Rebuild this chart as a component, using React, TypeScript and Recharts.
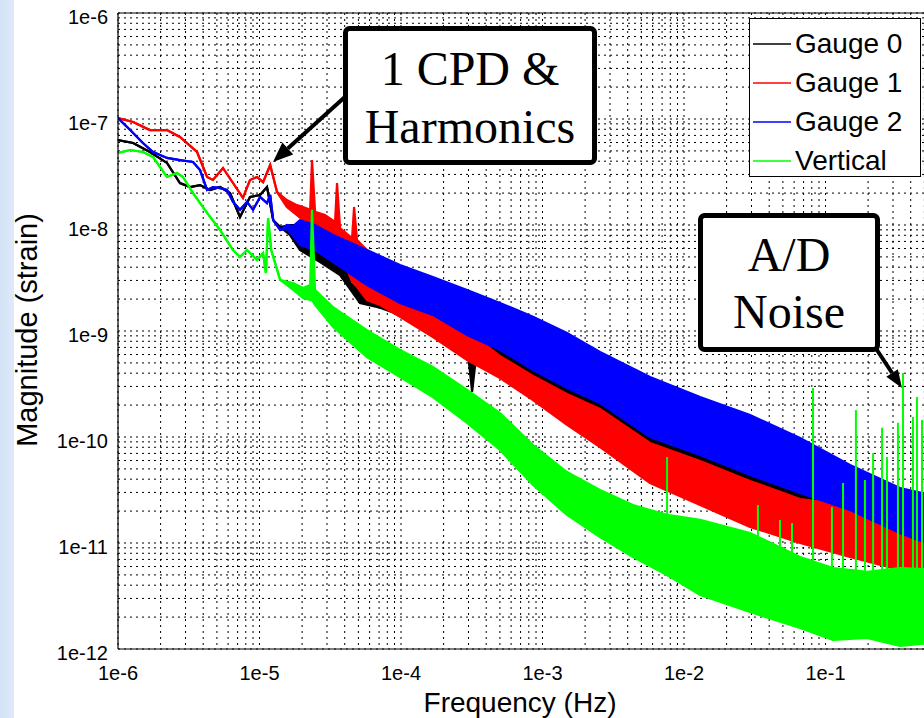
import React from "react";
import {
  ComposedChart,
  Area,
  Line,
  XAxis,
  YAxis,
  CartesianGrid,
  ReferenceLine,
  Legend,
} from "recharts";

type Pt = { f: number; lo: number; hi: number };

const seriesNames = ["Gauge 0", "Gauge 1", "Gauge 2", "Vertical"];
const seriesColors = ["#000000", "#ff0000", "#0000ff", "#00ff00"];

const xMajorTicks = [1e-6, 1e-5, 1e-4, 1e-3, 1e-2, 1e-1, 1];
const xTickLabels = ["1e-6", "1e-5", "1e-4", "1e-3", "1e-2", "1e-1", ""];
const yMajorTicks = [1e-12, 1e-11, 1e-10, 1e-9, 1e-8, 1e-7, 1e-6];
const yTickLabels = ["1e-12", "1e-11", "1e-10", "1e-9", "1e-8", "1e-7", "1e-6"];
const minorSteps = [2, 3, 4, 5, 6, 7, 8, 9];

// Gauge 0 (black): low-frequency trace, then noise envelope (lo / hi)
const gauge0: Pt[] = [
  { f: 1.0e-6, lo: 6.33e-8, hi: 6.33e-8 },
  { f: 1.28e-6, lo: 5.94e-8, hi: 5.94e-8 },
  { f: 1.68e-6, lo: 4.88e-8, hi: 4.88e-8 },
  { f: 2.22e-6, lo: 3.85e-8, hi: 3.85e-8 },
  { f: 2.74e-6, lo: 2.49e-8, hi: 2.49e-8 },
  { f: 3.23e-6, lo: 2.28e-8, hi: 2.28e-8 },
  { f: 3.8e-6, lo: 2.38e-8, hi: 2.38e-8 },
  { f: 4.47e-6, lo: 2.14e-8, hi: 2.14e-8 },
  { f: 5.26e-6, lo: 2.28e-8, hi: 2.28e-8 },
  { f: 6.19e-6, lo: 2.0e-8, hi: 2.0e-8 },
  { f: 7.28e-6, lo: 1.19e-8, hi: 1.19e-8 },
  { f: 8.57e-6, lo: 1.84e-8, hi: 1.84e-8 },
  { f: 1.01e-5, lo: 1.92e-8, hi: 1.92e-8 },
  { f: 1.13e-5, lo: 2.28e-8, hi: 2.28e-8 },
  { f: 1.25e-5, lo: 1.11e-8, hi: 1.11e-8 },
  { f: 1.4e-5, lo: 9.57e-9, hi: 9.57e-9 },
  { f: 1.64e-5, lo: 8.05e-9, hi: 1.0e-8 },
  { f: 1.93e-5, lo: 5.81e-9, hi: 1.0e-8 },
  { f: 2.68e-5, lo: 4.47e-9, hi: 8.05e-9 },
  { f: 3.71e-5, lo: 3.37e-9, hi: 7.22e-9 },
  { f: 5.13e-5, lo: 1.84e-9, hi: 5.81e-9 },
  { f: 7.11e-5, lo: 1.66e-9, hi: 4.47e-9 },
  { f: 9.84e-5, lo: 1.42e-9, hi: 3.37e-9 },
  { f: 1.68e-4, lo: 1.02e-9, hi: 2.19e-9 },
  { f: 2.93e-4, lo: 7.38e-10, hi: 1.58e-9 },
  { f: 3.18e-4, lo: 2.66e-10, hi: 1.42e-9 },
  { f: 3.44e-4, lo: 6.62e-10, hi: 1.33e-9 },
  { f: 5.01e-4, lo: 5.32e-10, hi: 1.02e-9 },
  { f: 8.57e-4, lo: 3.09e-10, hi: 6.62e-10 },
  { f: 1.49e-3, lo: 2.23e-10, hi: 4.29e-10 },
  { f: 2.55e-3, lo: 1.68e-10, hi: 2.78e-10 },
  { f: 5.75e-3, lo: 8.4e-11, hi: 1.45e-10 },
  { f: 1.3e-2, lo: 5.81e-11, hi: 9.37e-11 },
  { f: 2.93e-2, lo: 3.76e-11, hi: 6.07e-11 },
  { f: 6.61e-2, lo: 2.54e-11, hi: 3.93e-11 },
  { f: 1.49e-1, lo: 1.84e-11, hi: 2.84e-11 },
  { f: 3.36e-1, lo: 1.07e-11, hi: 1.84e-11 },
  { f: 6.45e-1, lo: 8.22e-12, hi: 1.48e-11 },
];

// Gauge 1 (red)
const gauge1: Pt[] = [
  { f: 1.0e-6, lo: 1.02e-7, hi: 1.02e-7 },
  { f: 1.28e-6, lo: 9.37e-8, hi: 9.37e-8 },
  { f: 1.68e-6, lo: 7.87e-8, hi: 7.87e-8 },
  { f: 2.22e-6, lo: 7.87e-8, hi: 7.87e-8 },
  { f: 2.74e-6, lo: 6.76e-8, hi: 6.76e-8 },
  { f: 3.62e-6, lo: 4.88e-8, hi: 4.88e-8 },
  { f: 4.26e-6, lo: 2.84e-8, hi: 2.84e-8 },
  { f: 4.69e-6, lo: 2.66e-8, hi: 2.66e-8 },
  { f: 5.52e-6, lo: 3.45e-8, hi: 3.45e-8 },
  { f: 6.5e-6, lo: 2.49e-8, hi: 2.49e-8 },
  { f: 7.64e-6, lo: 1.8e-8, hi: 1.8e-8 },
  { f: 8.57e-6, lo: 2.66e-8, hi: 2.66e-8 },
  { f: 9.6e-6, lo: 2.84e-8, hi: 2.84e-8 },
  { f: 1.06e-5, lo: 2.54e-8, hi: 2.54e-8 },
  { f: 1.19e-5, lo: 3.68e-8, hi: 3.68e-8 },
  { f: 1.33e-5, lo: 2.05e-8, hi: 2.05e-8 },
  { f: 1.56e-5, lo: 1.48e-8, hi: 1.72e-8 },
  { f: 1.84e-5, lo: 1.24e-8, hi: 1.54e-8 },
  { f: 2.1e-5, lo: 1.07e-8, hi: 1.45e-8 },
  { f: 2.28e-5, lo: 9.78e-9, hi: 1.39e-8 },
  { f: 2.35e-5, lo: 9.37e-9, hi: 4.1e-8 },
  { f: 2.47e-5, lo: 8.97e-9, hi: 1.33e-8 },
  { f: 2.9e-5, lo: 7.22e-9, hi: 1.24e-8 },
  { f: 3.42e-5, lo: 6.07e-9, hi: 1.07e-8 },
  { f: 3.53e-5, lo: 5.81e-9, hi: 2.49e-8 },
  { f: 3.71e-5, lo: 5.56e-9, hi: 9.37e-9 },
  { f: 4.51e-5, lo: 2.9e-9, hi: 7.54e-9 },
  { f: 4.66e-5, lo: 2.78e-9, hi: 1.48e-8 },
  { f: 4.89e-5, lo: 2.6e-9, hi: 7.22e-9 },
  { f: 5.75e-5, lo: 1.96e-9, hi: 5.81e-9 },
  { f: 7.11e-5, lo: 1.76e-9, hi: 4.47e-9 },
  { f: 9.84e-5, lo: 1.36e-9, hi: 3.03e-9 },
  { f: 1.68e-4, lo: 8.78e-10, hi: 1.96e-9 },
  { f: 2.93e-4, lo: 5.32e-10, hi: 1.02e-9 },
  { f: 5.01e-4, lo: 3.6e-10, hi: 5.81e-10 },
  { f: 8.57e-4, lo: 2.23e-10, hi: 3.76e-10 },
  { f: 1.49e-3, lo: 1.3e-10, hi: 2.54e-10 },
  { f: 2.55e-3, lo: 8.05e-11, hi: 1.84e-10 },
  { f: 5.75e-3, lo: 3.68e-11, hi: 8.78e-11 },
  { f: 1.3e-2, lo: 2.28e-11, hi: 5.94e-11 },
  { f: 2.93e-2, lo: 1.42e-11, hi: 3.85e-11 },
  { f: 6.61e-2, lo: 1.0e-11, hi: 2.6e-11 },
  { f: 1.49e-1, lo: 7.38e-12, hi: 2.28e-11 },
  { f: 3.36e-1, lo: 5.56e-12, hi: 1.39e-11 },
  { f: 6.45e-1, lo: 4.78e-12, hi: 1.07e-11 },
];

// Gauge 2 (blue)
const gauge2: Pt[] = [
  { f: 1.0e-6, lo: 1.02e-7, hi: 1.02e-7 },
  { f: 1.22e-6, lo: 7.87e-8, hi: 7.87e-8 },
  { f: 1.5e-6, lo: 5.94e-8, hi: 5.94e-8 },
  { f: 1.77e-6, lo: 4.88e-8, hi: 4.88e-8 },
  { f: 2.22e-6, lo: 4.29e-8, hi: 4.29e-8 },
  { f: 2.74e-6, lo: 4.1e-8, hi: 4.1e-8 },
  { f: 3.39e-6, lo: 3.93e-8, hi: 3.93e-8 },
  { f: 3.8e-6, lo: 3.3e-8, hi: 3.3e-8 },
  { f: 4.26e-6, lo: 2.14e-8, hi: 2.14e-8 },
  { f: 4.69e-6, lo: 2.28e-8, hi: 2.28e-8 },
  { f: 5.26e-6, lo: 2.23e-8, hi: 2.23e-8 },
  { f: 5.89e-6, lo: 2.14e-8, hi: 2.14e-8 },
  { f: 6.5e-6, lo: 1.65e-8, hi: 1.65e-8 },
  { f: 7.28e-6, lo: 1.39e-8, hi: 1.39e-8 },
  { f: 8.16e-6, lo: 1.65e-8, hi: 1.65e-8 },
  { f: 9.0e-6, lo: 1.39e-8, hi: 1.39e-8 },
  { f: 1.01e-5, lo: 1.84e-8, hi: 1.84e-8 },
  { f: 1.13e-5, lo: 1.61e-8, hi: 1.61e-8 },
  { f: 1.19e-5, lo: 1.92e-8, hi: 1.92e-8 },
  { f: 1.25e-5, lo: 1.11e-8, hi: 1.11e-8 },
  { f: 1.4e-5, lo: 8.97e-9, hi: 8.97e-9 },
  { f: 1.56e-5, lo: 9.17e-9, hi: 1.0e-8 },
  { f: 1.73e-5, lo: 7.87e-9, hi: 9.78e-9 },
  { f: 1.93e-5, lo: 6.47e-9, hi: 1.11e-8 },
  { f: 2.47e-5, lo: 5.81e-9, hi: 1.0e-8 },
  { f: 3.31e-5, lo: 4.47e-9, hi: 8.05e-9 },
  { f: 5.75e-5, lo: 2.72e-9, hi: 5.81e-9 },
  { f: 9.84e-5, lo: 1.84e-9, hi: 4.19e-9 },
  { f: 1.68e-4, lo: 1.42e-9, hi: 3.23e-9 },
  { f: 2.93e-4, lo: 9.17e-10, hi: 2.44e-9 },
  { f: 5.01e-4, lo: 6.62e-10, hi: 1.84e-9 },
  { f: 8.57e-4, lo: 4.29e-10, hi: 1.36e-9 },
  { f: 1.49e-3, lo: 2.9e-10, hi: 9.57e-10 },
  { f: 2.55e-3, lo: 2.09e-10, hi: 6.34e-10 },
  { f: 5.75e-3, lo: 1.0e-10, hi: 3.68e-10 },
  { f: 1.3e-2, lo: 6.76e-11, hi: 2.38e-10 },
  { f: 2.93e-2, lo: 4.38e-11, hi: 1.61e-10 },
  { f: 6.61e-2, lo: 2.96e-11, hi: 9.78e-11 },
  { f: 1.49e-1, lo: 2.05e-11, hi: 5.44e-11 },
  { f: 3.36e-1, lo: 1.24e-11, hi: 3.3e-11 },
  { f: 6.45e-1, lo: 8.97e-12, hi: 2.72e-11 },
];

// Vertical (green)
const vertical: Pt[] = [
  { f: 1.0e-6, lo: 4.78e-8, hi: 4.78e-8 },
  { f: 1.22e-6, lo: 5.1e-8, hi: 5.1e-8 },
  { f: 1.5e-6, lo: 4.88e-8, hi: 4.88e-8 },
  { f: 1.77e-6, lo: 4.38e-8, hi: 4.38e-8 },
  { f: 2.22e-6, lo: 2.84e-8, hi: 2.84e-8 },
  { f: 2.61e-6, lo: 3.09e-8, hi: 3.09e-8 },
  { f: 2.88e-6, lo: 2.84e-8, hi: 2.84e-8 },
  { f: 3.39e-6, lo: 2.0e-8, hi: 2.0e-8 },
  { f: 4.26e-6, lo: 1.3e-8, hi: 1.3e-8 },
  { f: 5.26e-6, lo: 8.97e-9, hi: 8.97e-9 },
  { f: 6.5e-6, lo: 5.81e-9, hi: 5.81e-9 },
  { f: 7.28e-6, lo: 4.99e-9, hi: 4.99e-9 },
  { f: 8.16e-6, lo: 5.81e-9, hi: 5.81e-9 },
  { f: 9.6e-6, lo: 4.67e-9, hi: 4.67e-9 },
  { f: 1.06e-5, lo: 5.44e-9, hi: 5.44e-9 },
  { f: 1.11e-5, lo: 3.52e-9, hi: 3.52e-9 },
  { f: 1.15e-5, lo: 1.16e-8, hi: 1.16e-8 },
  { f: 1.21e-5, lo: 5.81e-9, hi: 5.81e-9 },
  { f: 1.4e-5, lo: 3.03e-9, hi: 3.03e-9 },
  { f: 1.73e-5, lo: 2.44e-9, hi: 2.84e-9 },
  { f: 2.03e-5, lo: 2.05e-9, hi: 2.54e-9 },
  { f: 2.28e-5, lo: 1.96e-9, hi: 2.72e-9 },
  { f: 2.35e-5, lo: 1.96e-9, hi: 1.39e-8 },
  { f: 2.47e-5, lo: 1.76e-9, hi: 2.44e-9 },
  { f: 3.31e-5, lo: 1.09e-9, hi: 1.68e-9 },
  { f: 5.75e-5, lo: 5.68e-10, hi: 1.02e-9 },
  { f: 9.84e-5, lo: 3.68e-10, hi: 6.62e-10 },
  { f: 1.68e-4, lo: 2.38e-10, hi: 4.57e-10 },
  { f: 2.93e-4, lo: 1.36e-10, hi: 2.78e-10 },
  { f: 5.01e-4, lo: 7.54e-11, hi: 1.68e-10 },
  { f: 8.57e-4, lo: 3.52e-11, hi: 8.4e-11 },
  { f: 1.49e-3, lo: 1.84e-11, hi: 4.67e-11 },
  { f: 2.55e-3, lo: 1.14e-11, hi: 3.16e-11 },
  { f: 4.36e-3, lo: 7.38e-12, hi: 2.28e-11 },
  { f: 7.59e-3, lo: 4.99e-12, hi: 1.84e-11 },
  { f: 1.3e-2, lo: 3.23e-12, hi: 1.65e-11 },
  { f: 2.93e-2, lo: 2.23e-12, hi: 1.24e-11 },
  { f: 6.61e-2, lo: 1.58e-12, hi: 7.38e-12 },
  { f: 1.13e-1, lo: 1.22e-12, hi: 5.81e-12 },
  { f: 1.97e-1, lo: 1.27e-12, hi: 5.33e-12 },
  { f: 3.36e-1, lo: 1.07e-12, hi: 5.81e-12 },
  { f: 6.45e-1, lo: 1.16e-12, hi: 5.56e-12 },
];

// A/D noise spikes on the Vertical channel
const verticalSpikes: Pt[] = [
  { f: 7.59e-3, lo: 6.91e-12, hi: 6.47e-11 },
  { f: 3.33e-2, lo: 2.9e-12, hi: 2.28e-11 },
  { f: 4.77e-2, lo: 2.9e-12, hi: 1.65e-11 },
  { f: 5.8e-2, lo: 2.9e-12, hi: 1.54e-11 },
  { f: 8.16e-2, lo: 2.9e-12, hi: 2.9e-10 },
  { f: 1.11e-1, lo: 2.9e-12, hi: 2.19e-11 },
  { f: 1.33e-1, lo: 2.9e-12, hi: 3.68e-11 },
  { f: 1.64e-1, lo: 2.9e-12, hi: 1.8e-10 },
  { f: 1.9e-1, lo: 2.9e-12, hi: 3.93e-11 },
  { f: 2.17e-1, lo: 2.9e-12, hi: 7.07e-11 },
  { f: 2.51e-1, lo: 2.9e-12, hi: 1.22e-10 },
  { f: 2.72e-1, lo: 2.9e-12, hi: 6.47e-11 },
  { f: 3.25e-1, lo: 2.9e-12, hi: 1.36e-10 },
  { f: 3.53e-1, lo: 2.9e-12, hi: 4.02e-10 },
  { f: 4.15e-1, lo: 2.9e-12, hi: 1.54e-10 },
  { f: 4.43e-1, lo: 2.9e-12, hi: 2.38e-10 },
  { f: 4.81e-1, lo: 2.9e-12, hi: 1.45e-10 },
];

const seriesData = [gauge0, gauge1, gauge2, vertical];

const withMinor = (majors: number[]) => {
  const out: number[] = [];
  majors.forEach((m, i) => {
    out.push(m);
    if (i < majors.length - 1) minorSteps.forEach((s) => out.push(s * m));
  });
  return out;
};
const xTicks = withMinor(xMajorTicks);
const yTicks = withMinor(yMajorTicks);

const labelFor = (v: number, majors: number[], labels: string[]) => {
  const i = majors.findIndex((m) => Math.abs(v / m - 1) < 1e-6);
  return i >= 0 ? labels[i] : "";
};

const spikeRows = (arr: Pt[]) =>
  arr.flatMap((s) => [
    { f: s.f, v: s.lo },
    { f: s.f, v: s.hi },
    { f: s.f, v: null },
  ]);

const rangeKey = (d: Pt) => [d.lo, d.hi];

const SANS = "'Liberation Sans', Arial, Helvetica, sans-serif";
const SERIF = "'Liberation Serif', 'Times New Roman', serif";

const XTick = (props: any) => {
  const { x, y, payload } = props;
  const lbl = labelFor(payload.value, xMajorTicks, xTickLabels);
  if (!lbl) return <g />;
  return (
    <text x={x} y={y + 24} textAnchor="middle" dominantBaseline="central" fontFamily={SANS} fontSize={20} fill="#000">
      {lbl}
    </text>
  );
};

const YTick = (props: any) => {
  const { x, y, payload } = props;
  const lbl = labelFor(payload.value, yMajorTicks, yTickLabels);
  if (!lbl) return <g />;
  return (
    <text x={x - 10} y={y + 4} textAnchor="end" dominantBaseline="central" fontFamily={SANS} fontSize={20} fill="#000">
      {lbl}
    </text>
  );
};

const LegendBox = (props: any) => {
  const payload: any[] = props.payload || [];
  const items = seriesNames.map((n, i) => {
    const p = payload.find((q) => q.value === n);
    return { name: n, color: p && p.color ? p.color : seriesColors[i] };
  });
  return (
    <div
      style={{
        width: 172,
        height: 159,
        boxSizing: "border-box",
        border: "1.5px solid #000",
        background: "#fff",
        position: "relative",
        fontFamily: SANS,
        fontSize: 28,
        color: "#000",
      }}
    >
      {items.map((it, i) => (
        <div
          key={it.name}
          style={{ position: "absolute", left: 0, top: 6 + i * 39, height: 38, display: "flex", alignItems: "center" }}
        >
          <svg width={44} height={6} style={{ display: "block" }}>
            <line x1={3} x2={41} y1={3} y2={3} stroke={it.color} strokeWidth={1.6} />
          </svg>
          <span style={{ marginLeft: 1, lineHeight: "38px", whiteSpace: "nowrap" }}>{it.name}</span>
        </div>
      ))}
    </div>
  );
};

export default function App() {
  return (
    <div
      style={{
        position: "absolute",
        left: 0,
        top: 0,
        width: 924,
        height: 718,
        overflow: "hidden",
        background: "linear-gradient(to right, #d3e2f7 0px, #e0eafa 14px, #ffffff 14px)",
      }}
    >
      <ComposedChart width={980} height={718} margin={{ top: 13, right: 13, bottom: 0, left: 0 }}>
        <CartesianGrid stroke="#000" strokeDasharray="2 4" strokeWidth={1} fill="#ffffff" />
        <XAxis
          dataKey="f"
          type="number"
          scale="log"
          domain={[1e-6, 1]}
          allowDataOverflow
          ticks={xTicks}
          interval={0}
          tick={XTick}
          tickLine={false}
          tickSize={0}
          tickMargin={0}
          height={69}
          axisLine={{ stroke: "#000", strokeWidth: 1.2 }}
        />
        <YAxis
          type="number"
          scale="log"
          domain={[1e-12, 1e-6]}
          allowDataOverflow
          ticks={yTicks}
          interval={0}
          tick={YTick}
          tickLine={false}
          tickSize={0}
          tickMargin={0}
          width={118}
          axisLine={{ stroke: "#000", strokeWidth: 1.2 }}
        />
        <ReferenceLine y={1e-6} stroke="#000" strokeWidth={1.2} />
        {seriesData.map((d, i) => (
          <Area
            key={seriesNames[i]}
            name={seriesNames[i]}
            data={d}
            dataKey={rangeKey as any}
            type="linear"
            stroke={seriesColors[i]}
            strokeWidth={2.2}
            fill={seriesColors[i]}
            fillOpacity={1}
            dot={false}
            activeDot={false}
            legendType="line"
            isAnimationActive={false}
          />
        ))}
        <Line
          data={spikeRows(verticalSpikes)}
          dataKey="v"
          type="linear"
          stroke="#00ff00"
          strokeWidth={2}
          dot={false}
          activeDot={false}
          legendType="none"
          connectNulls={false}
          isAnimationActive={false}
        />
        <Legend
          layout="horizontal"
          verticalAlign="middle"
          align="center"
          content={LegendBox}
          wrapperStyle={{ left: 749, top: 18, width: 172, height: 159 }}
        />
      </ComposedChart>
      <svg
        width={924}
        height={718}
        style={{ position: "absolute", left: 0, top: 0, pointerEvents: "none" }}
      >
        <text x={520} y={712} textAnchor="middle" fontFamily={SANS} fontSize={28} fill="#000">
          Frequency (Hz)
        </text>
        <text
          transform="translate(37,330) rotate(-90)"
          textAnchor="middle"
          fontFamily={SANS}
          fontSize={29}
          fill="#000"
        >
          Magnitude (strain)
        </text>
        {/* arrow 1 */}
        <line x1={346} y1={96} x2={287.8} y2={148.5} stroke="#000" strokeWidth={4} />
        <polygon points="273,162 293.2,154.4 282.4,142.6" fill="#000" />
        {/* arrow 2 */}
        <line x1={875} y1={347} x2={892.1} y2={373} stroke="#000" strokeWidth={4} />
        <polygon points="902,388 897.9,369.2 886.3,376.8" fill="#000" />
        {/* box 1 */}
        <rect x={345.5} y={28.5} width={249} height={134} rx={4} fill="#fff" stroke="#000" strokeWidth={5} />
        <text x={470} y={85} textAnchor="middle" fontFamily={SERIF} fontSize={48} fill="#000">
          1 CPD &amp;
        </text>
        <text x={470} y={143} textAnchor="middle" fontFamily={SERIF} fontSize={48} fill="#000">
          Harmonics
        </text>
        {/* box 2 */}
        <rect x={700.5} y={215.5} width={177} height={134} rx={4} fill="#fff" stroke="#000" strokeWidth={5} />
        <text x={789} y={271} textAnchor="middle" fontFamily={SERIF} fontSize={48} fill="#000">
          A/D
        </text>
        <text x={789} y={328} textAnchor="middle" fontFamily={SERIF} fontSize={48} fill="#000">
          Noise
        </text>
      </svg>
    </div>
  );
}
